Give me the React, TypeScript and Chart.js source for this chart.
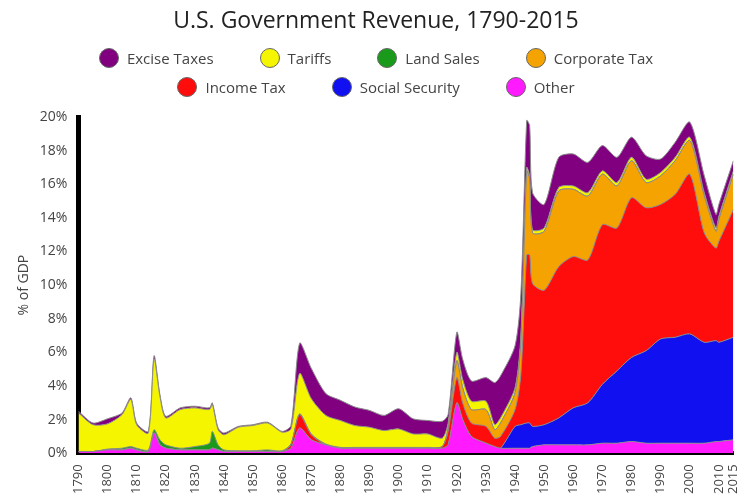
import React, { useEffect, useRef } from "react";
import { Chart, registerables } from "chart.js";

Chart.register(...registerables);

const years = [1790,1795,1800,1805,1808,1810,1814,1816,1818,1820,1825,1830,1835,1836,1838,1840,1845,1850,1855,1860,1863,1866,1870,1875,1880,1885,1890,1895,1900,1905,1910,1915,1917,1920,1922,1925,1930,1933,1935,1940,1942,1944,1945,1946,1950,1955,1960,1965,1970,1975,1980,1985,1990,1995,2000,2005,2009,2010,2015];

const other =   [0.1,0.1,0.2,0.2,0.3,0.2,0.1,1.2,0.5,0.3,0.2,0.2,0.2,0.3,0.2,0.1,0.1,0.1,0.1,0.1,0.3,1.5,0.8,0.5,0.3,0.3,0.3,0.3,0.3,0.3,0.3,0.3,0.5,3.0,2.0,1.0,0.6,0.4,0.3,0.3,0.3,0.3,0.3,0.4,0.5,0.5,0.5,0.5,0.6,0.6,0.7,0.6,0.6,0.6,0.6,0.6,0.7,0.7,0.8];
const socialSecurity = [0,0,0,0,0,0,0,0,0,0,0,0,0,0,0,0,0,0,0,0,0,0,0,0,0,0,0,0,0,0,0,0,0,0,0,0,0,0,0,1.3,1.4,1.5,1.5,1.2,1.2,1.6,2.2,2.5,3.5,4.3,5.0,5.5,6.2,6.3,6.5,6.0,6.0,5.9,6.1];
const incomeTax = [0,0,0,0,0,0,0,0,0,0,0,0,0,0,0,0,0,0,0,0,0.2,0.8,0.3,0,0,0,0,0,0,0,0,0.1,0.8,1.5,1.0,0.8,1.0,0.5,0.7,1.0,3.0,10.0,10.0,8.5,8.0,9.0,9.0,8.5,9.5,8.5,9.5,8.5,8.0,8.5,9.5,6.5,5.5,6.0,7.6];
const corporateTax = [0,0,0,0,0,0,0,0,0,0,0,0,0,0,0,0,0,0,0,0,0,0,0,0,0,0,0,0,0,0,0,0,0.2,1.0,0.9,0.8,1.0,0.5,0.8,1.0,2.0,5.0,4.5,3.0,3.5,4.5,4.0,3.8,3.0,2.5,2.2,1.5,1.7,2.0,2.0,2.2,1.0,1.3,2.1];
const landSales = [0,0,0.05,0.1,0.1,0.1,0.1,0.2,0.3,0.2,0.1,0.2,0.4,1.0,0.3,0.1,0.05,0.05,0.1,0.05,0.05,0.05,0.05,0.05,0.05,0.05,0.05,0.05,0.05,0.05,0.05,0,0,0,0,0,0,0,0,0,0,0,0,0,0,0,0,0,0,0,0,0,0,0,0,0,0,0,0];
const tariffs = [2.3,1.6,1.5,2.0,2.8,1.4,1.0,4.2,2.6,1.6,2.3,2.3,2.0,1.6,0.9,0.9,1.4,1.5,1.6,1.1,0.9,2.4,2.1,1.7,1.6,1.3,1.2,1.0,1.1,0.8,0.8,0.5,0.3,0.5,0.5,0.5,0.5,0.3,0.3,0.3,0.3,0.2,0.2,0.2,0.2,0.2,0.2,0.2,0.2,0.2,0.2,0.2,0.2,0.2,0.2,0.2,0.2,0.2,0.2];
const exciseTaxes = [0.1,0.1,0.3,0.1,0.1,0.1,0.1,0.2,0.1,0.1,0.1,0.1,0.1,0.1,0.1,0.1,0.05,0.05,0.05,0.05,0.2,1.8,1.8,1.3,1.2,1.1,1.0,0.9,1.2,0.9,0.8,1.0,0.5,1.2,1.2,1.2,1.4,2.5,2.5,2.5,2.5,2.8,3.0,2.2,1.4,1.8,1.9,1.8,1.5,1.5,1.2,1.4,0.8,0.9,0.9,1.0,0.8,0.7,0.6];

const xTicks = [1790,1800,1810,1820,1830,1840,1850,1860,1870,1880,1890,1900,1910,1920,1930,1940,1950,1960,1970,1980,1990,2000,2010,2015];

const series = [
  { label: "Other", data: other, color: "#ff1aff" },
  { label: "Social Security", data: socialSecurity, color: "#1010f0" },
  { label: "Income Tax", data: incomeTax, color: "#ff0d0d" },
  { label: "Corporate Tax", data: corporateTax, color: "#f5a300" },
  { label: "Land Sales", data: landSales, color: "#1a9a1a" },
  { label: "Tariffs", data: tariffs, color: "#f5f500" },
  { label: "Excise Taxes", data: exciseTaxes, color: "#800080" },
];

const legendRows = [
  ["Excise Taxes", "Tariffs", "Land Sales", "Corporate Tax"],
  ["Income Tax", "Social Security", "Other"],
];

const font = "'Open Sans', sans-serif";

const App: React.FC = () => {
  const canvasRef = useRef<HTMLCanvasElement | null>(null);

  useEffect(() => {
    const ctx = canvasRef.current?.getContext("2d");
    if (!ctx) return;
    const chart = new Chart(ctx, {
      type: "line",
      data: {
        datasets: series.map((s, i) => ({
          label: s.label,
          data: years.map((y, j) => ({ x: y, y: s.data[j] })),
          backgroundColor: s.color,
          borderColor: "#8a8a8a",
          borderWidth: 1,
          pointRadius: 0,
          fill: i === 0 ? "origin" : "-1",
          tension: 0.25,
        })),
      },
      options: {
        animation: false,
        responsive: false,
        layout: { padding: { top: 117, right: 16, left: 12, bottom: 4 } },
        plugins: { legend: { display: false }, tooltip: { enabled: false } },
        scales: {
          x: {
            type: "linear",
            min: 1790,
            max: 2015,
            afterBuildTicks: (axis) => {
              axis.ticks = xTicks.map((v) => ({ value: v }));
            },
            grid: { display: false },
            border: { color: "#000", width: 4 },
            ticks: {
              minRotation: 90,
              maxRotation: 90,
              autoSkip: false,
              color: "#444",
              font: { family: font, size: 13 },
              callback: (v) => String(v),
            },
          },
          y: {
            stacked: true,
            min: 0,
            max: 20,
            grid: { display: false },
            border: { color: "#000", width: 5 },
            title: { display: true, text: "% of GDP", color: "#444", font: { family: font, size: 14 } },
            ticks: {
              stepSize: 2,
              color: "#444",
              font: { family: font, size: 14 },
              callback: (v) => v + "%",
            },
          },
        },
      },
    });
    return () => chart.destroy();
  }, []);

  const colorOf = (l: string) => series.find((s) => s.label === l)!.color;

  return (
    <div style={{ position: "fixed", left: 0, top: 0, width: 752, height: 501, background: "#fff", fontFamily: font }}>
      <canvas ref={canvasRef} width={752} height={501} />
      <div style={{ position: "absolute", top: 3, width: 752, textAlign: "center", fontSize: 23, color: "#222" }}>
        U.S. Government Revenue, 1790-2015
      </div>
      {legendRows.map((row, r) => (
        <div key={r} style={{ position: "absolute", top: 48 + r * 29, width: 752, display: "flex", justifyContent: "center", gap: 46 }}>
          {row.map((l) => (
            <div key={l} style={{ display: "flex", alignItems: "center", fontSize: 15, color: "#444" }}>
              <span style={{ display: "inline-block", width: 18, height: 18, borderRadius: "50%", background: colorOf(l), border: "1px solid #666", marginRight: 8 }} />
              {l}
            </div>
          ))}
        </div>
      ))}
    </div>
  );
};

export default App;
